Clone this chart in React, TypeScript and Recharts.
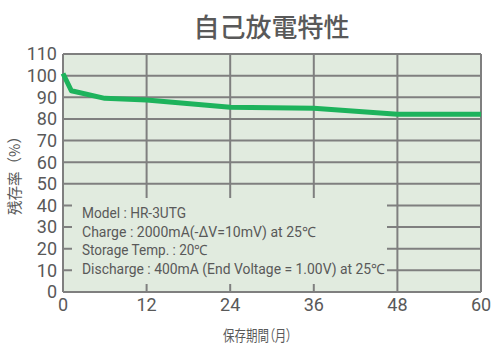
import { LineChart, Line, XAxis, YAxis, CartesianGrid, Customized } from "recharts";

const months = [0, 1.2, 6, 12, 24, 36, 48, 60];
const retention = [101, 93, 89.5, 88.7, 85.4, 84.9, 82.2, 82.2];
const xTicks = [0, 12, 24, 36, 48, 60];
const yTicks = [0, 10, 20, 30, 40, 50, 60, 70, 80, 90, 100, 110];
const noteLines = [
  "Model : HR-3UTG",
  "Charge : 2000mA(-ΔV=10mV) at 25℃",
  "Storage Temp. : 20℃",
  "Discharge : 400mA (End Voltage = 1.00V) at 25℃",
];
const noteWidths = [104, 234, 126, 303];

const data = months.map((m, i) => ({ month: m, value: retention[i] }));

const TEXT = "#595959";
const GRID = "#7f7f7f";
const BG = "#e1ebdf";
const GREEN = "#1db35c";
const CJK = "'Noto Sans CJK JP', sans-serif";

function Annotations() {
  return (
    <g>
      <rect x={72} y={198} width={315} height={86} fill={BG} />
      {noteLines.map((t, i) => (
        <text
          key={t}
          x={82}
          y={218 + i * 18.6}
          fill={TEXT}
          fontSize={14}
          fontFamily="Roboto, sans-serif"
          textLength={noteWidths[i]}
          lengthAdjust="spacingAndGlyphs"
        >
          {t}
        </text>
      ))}
      <text
        x={271.5}
        y={37}
        textAnchor="middle"
        fill={TEXT}
        fontSize={26}
        fontWeight={500}
        fontFamily={CJK}
      >
        自己放電特性
      </text>
      <text
        x={223}
        y={341}
        fill={TEXT}
        fontSize={15}
        fontFamily={CJK}
        style={{ fontFeatureSettings: '"palt"' }}
        textLength={69}
        lengthAdjust="spacingAndGlyphs"
      >
        保存期間（月）
      </text>
      <text
        x={0}
        y={0}
        transform="translate(20,172) rotate(-90)"
        textAnchor="middle"
        fill={TEXT}
        fontSize={15}
        fontFamily={CJK}
        textLength={86}
        lengthAdjust="spacingAndGlyphs"
      >
        残存率（%）
      </text>
    </g>
  );
}

export default function App() {
  return (
    <div style={{ position: "absolute", left: 0, top: 0, width: 500, height: 351, background: "#fff" }}>
      <LineChart
        width={500}
        height={351}
        data={data}
        margin={{ top: 54, right: 19, bottom: 29, left: 0 }}
      >
        <CartesianGrid stroke={GRID} strokeWidth={2} fill={BG} fillOpacity={1} />
        <XAxis
          dataKey="month"
          type="number"
          domain={[0, 60]}
          ticks={xTicks}
          height={30}
          tickSize={0}
          tickMargin={6}
          axisLine={false}
          tick={{ fill: TEXT, fontSize: 18, fontFamily: "Roboto, sans-serif" }}
        />
        <YAxis
          type="number"
          domain={[0, 110]}
          ticks={yTicks}
          width={63}
          tickSize={0}
          tickMargin={6}
          axisLine={false}
          interval={0}
          tick={{ fill: TEXT, fontSize: 18, fontFamily: "Roboto, sans-serif" }}
        />
        <Customized component={Annotations} />
        <Line
          type="linear"
          dataKey="value"
          stroke={GREEN}
          strokeWidth={5}
          strokeLinejoin="round"
          dot={false}
          isAnimationActive={false}
        />
      </LineChart>
    </div>
  );
}
